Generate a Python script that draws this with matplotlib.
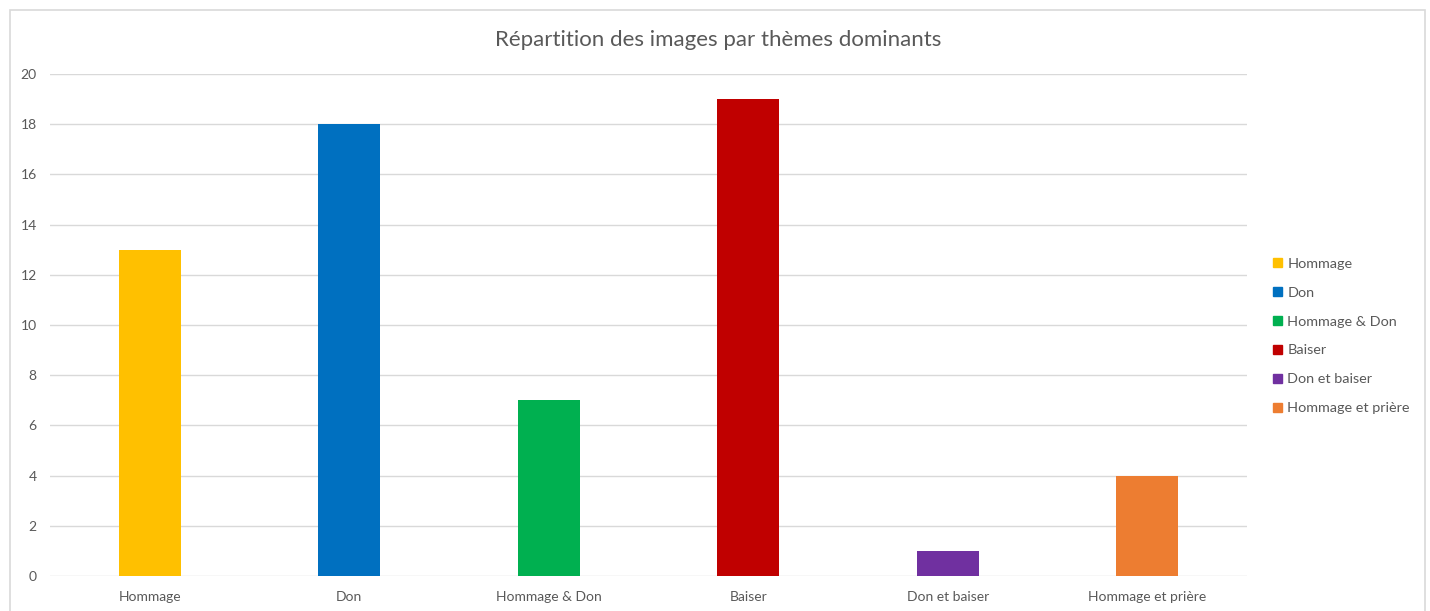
import matplotlib.pyplot as plt
from matplotlib.patches import Rectangle, Patch

categories = ['Hommage', 'Don', 'Hommage & Don', 'Baiser', 'Don et baiser', 'Hommage et prière']
values = [13, 18, 7, 19, 1, 4]
colors = ['#FFC000', '#0070C0', '#00B050', '#C00000', '#7030A0', '#ED7D31']
yticks = [0, 2, 4, 6, 8, 10, 12, 14, 16, 18, 20]

plt.rcParams['font.family'] = ['Lato', 'DejaVu Sans']
txt = '#595959'

fig = plt.figure(figsize=(14.3, 6.11), dpi=100)
# chart frame
fig.patches.append(Rectangle((10 / 1430, -0.05), 1415 / 1430, 1 - 10 / 611 + 0.05,
                             transform=fig.transFigure, fill=False,
                             edgecolor='#D9D9D9', linewidth=1.2))

ax = fig.add_axes([50 / 1430, 1 - 576 / 611, 1197 / 1430, 502 / 611])
ax.bar(range(len(categories)), values, width=0.31, color=colors, zorder=3)
ax.set_xlim(-0.5, len(categories) - 0.5)
ax.set_ylim(0, 20)
ax.set_yticks(yticks)
ax.set_xticks(range(len(categories)))
ax.set_xticklabels(categories)
ax.grid(axis='y', color='#D9D9D9', linewidth=1, zorder=0)
for s in ax.spines.values():
    s.set_visible(False)
ax.tick_params(length=0, labelsize=10, colors=txt)
ax.tick_params(axis='x', pad=11)
ax.tick_params(axis='y', pad=9.5)

fig.text(718 / 1430, 1 - 40 / 611, 'Répartition des images par thèmes dominants',
         ha='center', va='center', fontsize=16, color=txt)

handles = [Patch(color=c, label=l) for c, l in zip(colors, categories)]
fig.legend(handles=handles, loc='center left', bbox_to_anchor=(1260 / 1430, 1 - 336 / 611),
           frameon=False, fontsize=10.4, labelcolor=txt, handlelength=0.6, handleheight=0.6,
           handletextpad=0.4, labelspacing=1.17)

fig.savefig('out.png', dpi=100)
